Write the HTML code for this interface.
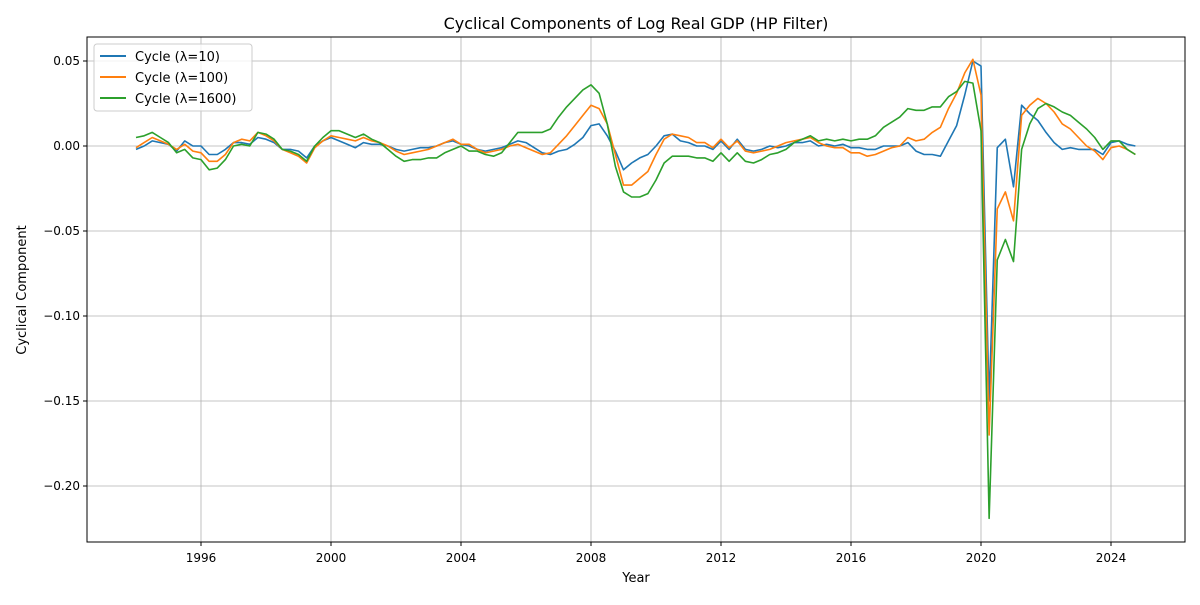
<!DOCTYPE html>
<html><head><meta charset="utf-8"><style>
body{margin:0;background:#fff;font-family:"Liberation Sans","DejaVu Sans",sans-serif}
text{font-family:"DejaVu Sans","Liberation Sans",sans-serif}
</style></head><body>
<svg id="chart" width="1200" height="600" xmlns="http://www.w3.org/2000/svg">
<rect width="1200" height="600" fill="#fff"/>
<g id="grid"></g>
<g id="series"></g>
<rect x="87" y="37" width="1098" height="505" fill="none" stroke="#000" stroke-width="1"/>
<g id="axes"></g>
<text x="636" y="29" text-anchor="middle" font-size="16">Cyclical Components of Log Real GDP (HP Filter)</text>
<text x="636" y="582" text-anchor="middle" font-size="13">Year</text>
<text transform="translate(26,290) rotate(-90)" text-anchor="middle" font-size="13">Cyclical Component</text>
<g>
<rect x="94" y="44" width="158" height="67" rx="3" fill="#fff" fill-opacity="0.8" stroke="#ccc"/>
<g><line x1="100" y1="56" x2="126" y2="56" stroke="#1f77b4" stroke-width="2"/><text x="135" y="61" font-size="13">Cycle (λ=10)</text></g>
<g><line x1="100" y1="77" x2="126" y2="77" stroke="#ff7f0e" stroke-width="2"/><text x="135" y="82" font-size="13">Cycle (λ=100)</text></g>
<g><line x1="100" y1="98" x2="126" y2="98" stroke="#2ca02c" stroke-width="2"/><text x="135" y="103" font-size="13">Cycle (λ=1600)</text></g>
</g>
</svg>
<script>
const startYear = 1994;
const xTicks = [1996, 2000, 2004, 2008, 2012, 2016, 2020, 2024];
const yTicks = [0.05, 0, -0.05, -0.10, -0.15, -0.20];
const yTickLabels = ["0.05","0.00","−0.05","−0.10","−0.15","−0.20"];
const cycle10 = [-2,0,3,2, 1,-3,3,0, 0,-5,-5,-2, 2,2,1,5, 4,2,-2,-2, -3,-7,0,3, 5,3,1,-1, 2,1,1,0, -2,-3,-2,-1, -1,0,2,3, 1,0,-2,-3, -2,-1,1,3, 2,-1,-4,-5, -3,-2,1,5, 12,13,6,-3, -14,-10,-7,-5, 0,6,7,3, 2,0,0,-2, 3,-2,4,-2, -3,-2,0,-1, 0,2,2,3, 0,1,0,1, -1,-1,-2,-2, 0,0,0,2, -3,-5,-5,-6, 3,12,30,50, 47,-150,-1,4, -24,24,19,15, 8,2,-2,-1, -2,-2,-2,-5, 2,3,1,0];
const cycle100 = [-1,2,5,3, 1,-2,1,-3, -4,-9,-9,-5, 2,4,3,8, 6,3,-2,-4, -6,-10,-1,3, 6,5,4,3, 5,3,2,0, -3,-5,-4,-3, -2,0,2,4, 1,1,-2,-4, -3,-2,0,1, -1,-3,-5,-4, 1,6,12,18, 24,22,13,-5, -23,-23,-19,-15, -5,4,7,6, 5,2,2,-1, 4,-1,3,-3, -4,-3,-2,0, 2,3,4,5, 2,0,-1,-1, -4,-4,-6,-5, -3,-1,0,5, 3,4,8,11, 22,31,43,51, 30,-170,-37,-27, -44,18,24,28, 25,20,13,10, 5,0,-3,-8, -1,0,-2,-5];
const cycle1600 = [5,6,8,5, 2,-4,-2,-7, -8,-14,-13,-8, 0,1,0,8, 7,4,-2,-3, -5,-9,0,5, 9,9,7,5, 7,4,2,-2, -6,-9,-8,-8, -7,-7,-4,-2, 0,-3,-3,-5, -6,-4,2,8, 8,8,8,10, 17,23,28,33, 36,31,13,-12, -27,-30,-30,-28, -20,-10,-6,-6, -6,-7,-7,-9, -4,-9,-4,-9, -10,-8,-5,-4, -2,2,4,6, 3,4,3,4, 3,4,4,6, 11,14,17,22, 21,21,23,23, 29,32,38,37, 9,-219,-67,-55, -68,-2,13,22, 25,23,20,18, 14,10,5,-2, 3,3,-2,-5];
const NS="http://www.w3.org/2000/svg";
const xs = yr => 136 + (yr - startYear) * 32.5;
const ys = v => 146 - v * 1700;
const grid=document.getElementById('grid'), axes=document.getElementById('axes'), ser=document.getElementById('series');
function mk(tag, attrs, parent){const e=document.createElementNS(NS,tag);for(const k in attrs)e.setAttribute(k,attrs[k]);parent.appendChild(e);return e;}
xTicks.forEach(t=>{
  const x=xs(t);
  const g=mk('line',{x1:x,x2:x,y1:37,y2:542,stroke:'#b0b0b0','stroke-width':0.8},grid);
  
  
  mk('line',{x1:x,x2:x,y1:542,y2:546,stroke:'#000'},axes);
  const tx=mk('text',{x:x,y:562,'text-anchor':'middle','font-size':12},axes);
  tx.textContent=t;
  
  
});
yTicks.forEach((t,i)=>{
  const y=ys(t);
  const g=mk('line',{x1:87,x2:1185,y1:y,y2:y,stroke:'#b0b0b0','stroke-width':0.8},grid);
  
  
  mk('line',{x1:83,x2:87,y1:y,y2:y,stroke:'#000'},axes);
  const tx=mk('text',{x:80,y:y+4,'text-anchor':'end','font-size':12},axes);
  tx.textContent=yTickLabels[i];
  
  
});
[[cycle10,'#1f77b4','line-lambda-10'],[cycle100,'#ff7f0e','line-lambda-100'],[cycle1600,'#2ca02c','line-lambda-1600']].forEach(([d,c,n])=>{
  const pts=d.map((v,i)=>xs(startYear+i/4).toFixed(2)+','+ys(v/1000).toFixed(2)).join(' ');
  const p=mk('polyline',{points:pts,fill:'none',stroke:c,'stroke-width':1.6,'stroke-linejoin':'round'},ser);
  
  
});
</script>
</body></html>
